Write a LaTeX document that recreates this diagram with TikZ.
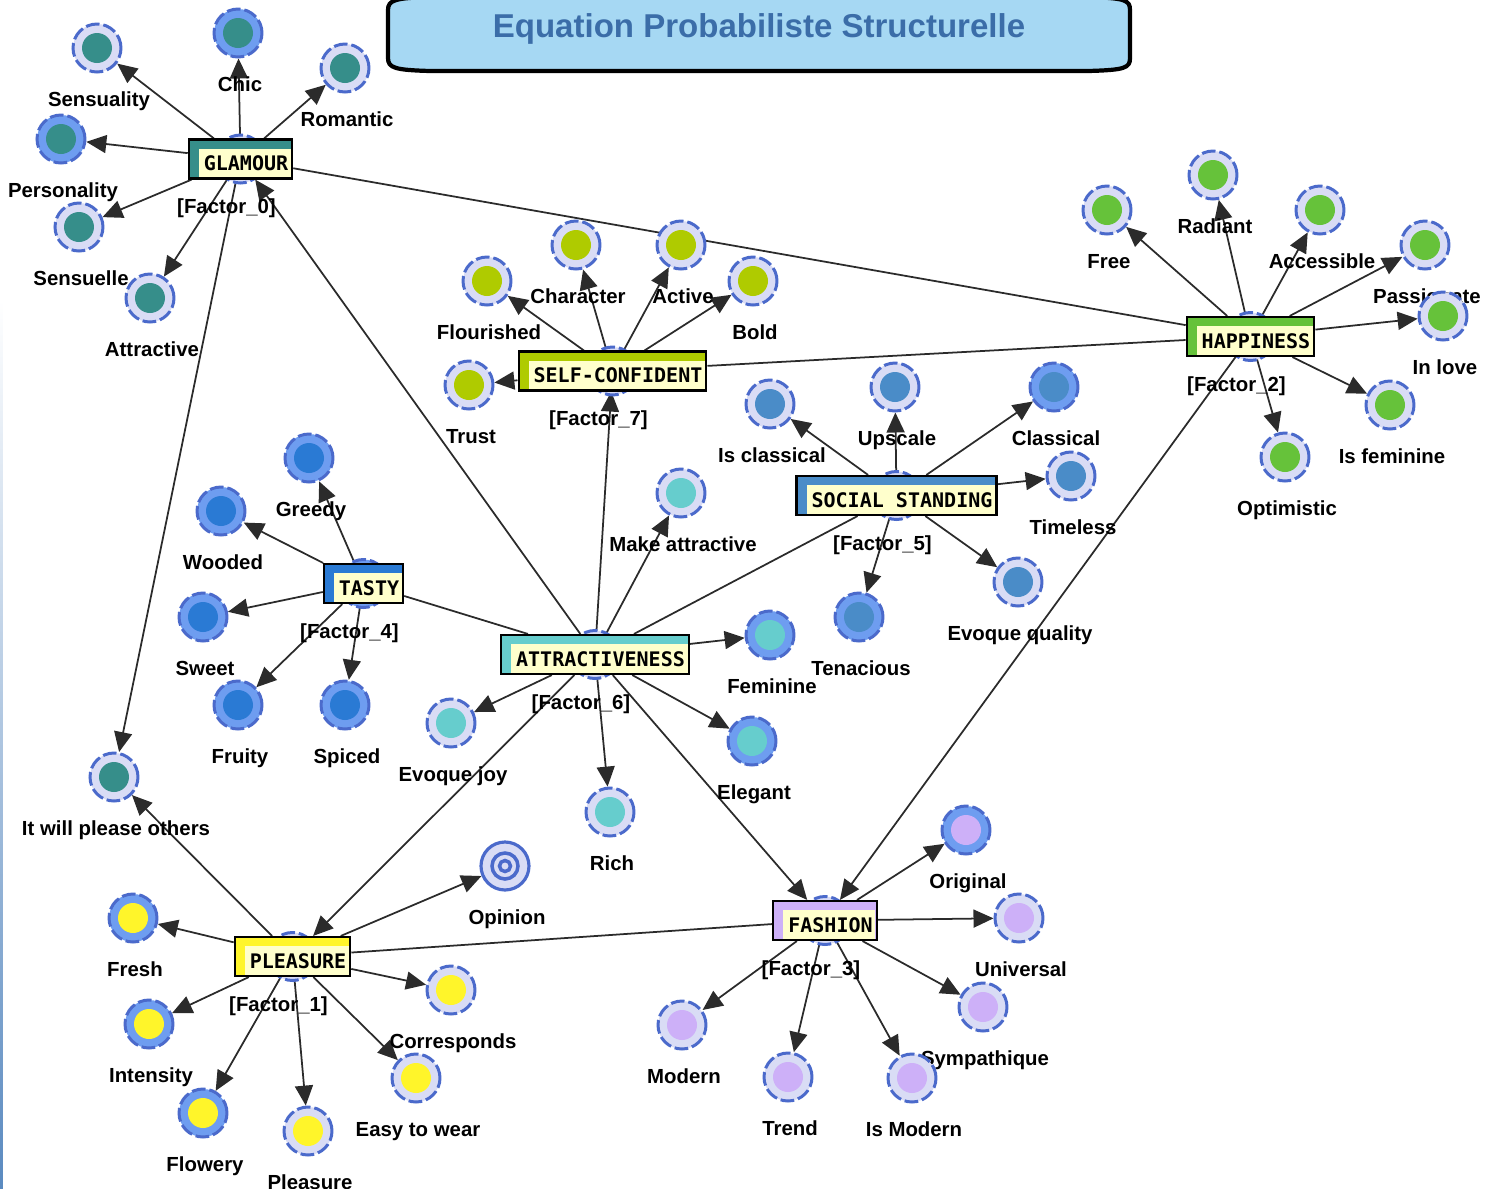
\documentclass[tikz,border=0pt]{standalone}
\usepackage{fontspec}
\setmainfont{Liberation Sans}
\newfontfamily\boxfont{DejaVu Sans Mono}
\usetikzlibrary{arrows.meta}
\pgfdeclarelayer{bg}
\pgfsetlayers{bg,main}
\newcommand\lblfont{\bfseries\fontsize{5.8pt}{7pt}\selectfont}
\definecolor{ringblue}{HTML}{4B6ACB}
\definecolor{palering}{HTML}{D9DCF5}
\definecolor{brightring}{HTML}{6E9DF0}
\definecolor{glamcol}{HTML}{368E8A}
\definecolor{selfcol}{HTML}{AFCB00}
\definecolor{happycol}{HTML}{66C23A}
\definecolor{socialcol}{HTML}{4A8CC8}
\definecolor{tastycol}{HTML}{2A7AD4}
\definecolor{attrcol}{HTML}{66CDCD}
\definecolor{pleascol}{HTML}{FFF52A}
\definecolor{fashcol}{HTML}{CDB0F8}
\definecolor{cream}{HTML}{FFFFCC}
\definecolor{titleblue}{HTML}{A6D8F3}
\definecolor{titletext}{HTML}{3B6DA8}
\definecolor{edgecol}{HTML}{2B2B2B}
\definecolor{stripblue}{HTML}{5A8AC0}

\begin{document}
\begin{tikzpicture}[
    leaf/.style={circle, minimum size=0.48cm, inner sep=0pt, draw=ringblue, line width=0.85pt,
        dash pattern=on 3.9pt off 1.1pt, fill=palering,
        path picture={\fill[#1] (path picture bounding box.center) circle (0.15cm);}},
    leafb/.style={leaf=#1, fill=brightring},
    opinion/.style={circle, minimum size=0.48cm, inner sep=0pt, draw=ringblue, line width=0.9pt, fill=palering,
        path picture={\draw[ringblue, line width=1pt] (path picture bounding box.center) circle (0.13cm) circle (0.055cm);}},
    factor/.style={draw=black, line width=0.6pt, fill=#1, minimum height=0.39cm, inner ysep=0pt, inner xsep=0.04cm,
        font=\boxfont\bfseries\fontsize{5.7pt}{6pt}\selectfont, text height=0.25cm, text depth=0.02cm,
        path picture={\fill[cream] ([xshift=0.10cm,yshift=-0.09cm]path picture bounding box.north west)
            rectangle ([xshift=-0.013cm,yshift=0.013cm]path picture bounding box.south east);}},
    every label/.style={font=\lblfont, text height=0.15cm, text depth=0.04cm, inner sep=0pt, xshift=0.02cm},
    label distance=0.175cm,
    flab/.style={label distance=0.185cm, xshift=-0.16cm},
    arr/.style={draw=edgecol, line width=0.5pt, -{Triangle[length=0.2cm,width=0.18cm]}},
    lnk/.style={draw=edgecol, line width=0.5pt}
]
\useasboundingbox (0,0) rectangle (14.89,-11.89);
\shade[top color=white, bottom color=stripblue] (0,-3) rectangle (0.03,-11.89);

\draw[line width=1.2pt, fill=titleblue] (3.88,-0.10) -- (3.88,-0.58)
    .. controls (3.88,-0.68) and (3.95,-0.70) .. (4.30,-0.71) -- (10.88,-0.71)
    .. controls (11.25,-0.70) and (11.30,-0.68) .. (11.30,-0.58) -- (11.30,-0.10)
    .. controls (11.30,0.0) and (11.25,0.02) .. (10.88,0.03) -- (4.30,0.03)
    .. controls (3.95,0.02) and (3.88,0.0) .. (3.88,-0.10) -- cycle;
\node[font=\bfseries\fontsize{9.4pt}{11pt}\selectfont, text=titletext] (title) at (7.59,-0.29) {Equation Probabiliste Structurelle};

\node[leaf=glamcol] (glamourc) at (2.405,-1.59) {};
\node[factor=glamcol, label={[flab]below:{[Factor\_0]}}] (glamour) at (glamourc) {\hspace{0.11cm}GLAMOUR};
\node[leaf=glamcol, label=below:Sensuality] (sensuality) at (0.97,-0.48) {};
\node[leafb=glamcol, label=below:Chic] (chic) at (2.38,-0.33) {};
\node[leaf=glamcol, label=below:Romantic] (romantic) at (3.45,-0.68) {};
\node[leafb=glamcol, label=below:Personality] (personality) at (0.61,-1.39) {};
\node[leaf=glamcol, label=below:Sensuelle] (sensuelle) at (0.79,-2.27) {};
\node[leaf=glamcol, label=below:Attractive] (attractive) at (1.50,-2.98) {};
\node[leaf=glamcol, label=below:It will please others] (please) at (1.14,-7.77) {};

\node[leaf=selfcol] (selfc) at (6.125,-3.71) {};
\node[factor=selfcol, label={[flab]below:{[Factor\_7]}}] (self) at (selfc) {\hspace{0.11cm}SELF-CONFIDENT};
\node[leaf=selfcol, label=below:Flourished] (flourished) at (4.87,-2.81) {};
\node[leaf=selfcol, label=below:Character] (character) at (5.76,-2.45) {};
\node[leaf=selfcol, label=below:Active] (active) at (6.81,-2.45) {};
\node[leaf=selfcol, label=below:Bold] (bold) at (7.53,-2.81) {};
\node[leaf=selfcol, label=below:Trust] (trust) at (4.69,-3.85) {};

\node[leaf=happycol] (happinessc) at (12.505,-3.365) {};
\node[factor=happycol, label={[flab]below:{[Factor\_2]}}] (happiness) at (happinessc) {\hspace{0.11cm}HAPPINESS};
\node[leaf=happycol, label=below:Free] (free) at (11.07,-2.10) {};
\node[leaf=happycol, label=below:Radiant] (radiant) at (12.13,-1.75) {};
\node[leaf=happycol, label=below:Accessible] (accessible) at (13.20,-2.10) {};
\node[leaf=happycol, label=below:Passionate] (passionate) at (14.25,-2.45) {};
\node[leaf=happycol, label=below:In love] (inlove) at (14.43,-3.16) {};
\node[leaf=happycol, label=below:Is feminine] (isfeminine) at (13.90,-4.05) {};
\node[leaf=happycol, label=below:Optimistic] (optimistic) at (12.85,-4.57) {};

\node[leaf=socialcol] (socialc) at (8.965,-4.955) {};
\node[factor=socialcol, label={[flab]below:{[Factor\_5]}}] (social) at (socialc) {\hspace{0.11cm}SOCIAL STANDING};
\node[leaf=socialcol, label=below:Is classical] (isclassical) at (7.70,-4.04) {};
\node[leaf=socialcol, label=below:Upscale] (upscale) at (8.95,-3.87) {};
\node[leafb=socialcol, label=below:Classical] (classical) at (10.54,-3.87) {};
\node[leaf=socialcol, label=below:Timeless] (timeless) at (10.71,-4.76) {};
\node[leaf=socialcol, label=below:Evoque quality] (evquality) at (10.18,-5.82) {};
\node[leafb=socialcol, label=below:Tenacious] (tenacious) at (8.59,-6.17) {};

\node[leafb=tastycol] (tastyc) at (3.635,-5.835) {};
\node[factor=tastycol, label={[flab]below:{[Factor\_4]}}] (tasty) at (tastyc) {\hspace{0.11cm}TASTY};
\node[leafb=tastycol, label=below:Greedy] (greedy) at (3.09,-4.58) {};
\node[leafb=tastycol, label=below:Wooded] (wooded) at (2.21,-5.11) {};
\node[leafb=tastycol, label=below:Sweet] (sweet) at (2.03,-6.17) {};
\node[leafb=tastycol, label=below:Fruity] (fruity) at (2.38,-7.05) {};
\node[leafb=tastycol, label=below:Spiced] (spiced) at (3.45,-7.05) {};

\node[leaf=attrcol] (attrc) at (5.95,-6.545) {};
\node[factor=attrcol, label={[flab]below:{[Factor\_6]}}] (attr) at (attrc) {\hspace{0.11cm}ATTRACTIVENESS};
\node[leaf=attrcol, label=below:Make attractive] (makeattr) at (6.81,-4.93) {};
\node[leafb=attrcol, label=below:Feminine] (feminine) at (7.70,-6.35) {};
\node[leafb=attrcol, label=below:Elegant] (elegant) at (7.52,-7.41) {};
\node[leaf=attrcol, label=below:Rich] (rich) at (6.10,-8.12) {};
\node[leaf=attrcol, label=below:Evoque joy] (evjoy) at (4.51,-7.23) {};

\node[leaf=pleascol] (pleasurec) at (2.925,-9.565) {};
\node[factor=pleascol, label={[flab]below:{[Factor\_1]}}] (pleasure) at (pleasurec) {\hspace{0.11cm}PLEASURE};
\node[leafb=pleascol, label=below:Fresh] (fresh) at (1.33,-9.18) {};
\node[leafb=pleascol, label=below:Intensity] (intensity) at (1.49,-10.24) {};
\node[leafb=pleascol, label=below:Flowery] (flowery) at (2.03,-11.13) {};
\node[leaf=pleascol, label=below:Pleasure] (pleasurel) at (3.08,-11.31) {};
\node[leaf=pleascol, label=below:Easy to wear] (easywear) at (4.16,-10.78) {};
\node[leaf=pleascol, label=below:Corresponds] (corresponds) at (4.51,-9.90) {};
\node[opinion, label=below:Opinion] (opinion) at (5.05,-8.66) {};

\node[leaf=fashcol] (fashionc) at (8.25,-9.205) {};
\node[factor=fashcol, label={[flab]below:{[Factor\_3]}}] (fashion) at (fashionc) {\hspace{0.11cm}FASHION};
\node[leafb=fashcol, label=below:Original] (original) at (9.66,-8.30) {};
\node[leaf=fashcol, label=below:Universal] (universal) at (10.19,-9.18) {};
\node[leaf=fashcol, label=below:Sympathique] (sympathique) at (9.83,-10.07) {};
\node[leaf=fashcol, label=below:Is Modern] (ismodern) at (9.12,-10.78) {};
\node[leaf=fashcol, label=below:Trend] (trend) at (7.88,-10.77) {};
\node[leaf=fashcol, label=below:Modern] (modern) at (6.82,-10.25) {};

\begin{pgfonlayer}{bg}
\foreach \a/\b in {glamour/happiness, self/happiness, attr/social, tasty/attr, pleasure/fashion}
    \draw[lnk] (\a) -- (\b);
\foreach \a/\b in {glamour/sensuality, glamour/chic, glamour/romantic, glamour/personality,
    glamour/sensuelle, glamour/attractive, glamour/please,
    self/flourished, self/character, self/active, self/bold, self/trust,
    happiness/free, happiness/radiant, happiness/accessible, happiness/passionate,
    happiness/inlove, happiness/isfeminine, happiness/optimistic, happiness/fashion,
    social/isclassical, social/upscale, social/classical, social/timeless,
    social/evquality, social/tenacious,
    tasty/greedy, tasty/wooded, tasty/sweet, tasty/fruity, tasty/spiced,
    attr/glamour, attr/self, attr/makeattr, attr/feminine, attr/elegant, attr/rich,
    attr/evjoy, attr/pleasure, attr/fashion,
    pleasure/please, pleasure/fresh, pleasure/intensity, pleasure/flowery, pleasure/pleasurel,
    pleasure/easywear, pleasure/corresponds, pleasure/opinion,
    fashion/original, fashion/universal, fashion/sympathique, fashion/ismodern,
    fashion/trend, fashion/modern}
    \draw[arr] (\a) -- (\b);
\end{pgfonlayer}
\end{tikzpicture}
\end{document}
